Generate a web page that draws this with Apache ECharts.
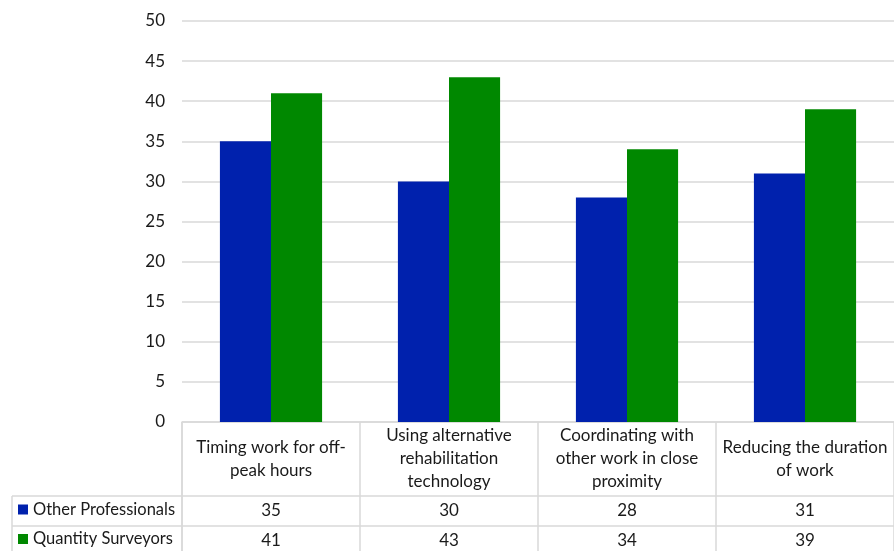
<!DOCTYPE html>
<html>
<head>
<meta charset="utf-8">
<script src="https://cdn.jsdelivr.net/npm/echarts@6/dist/echarts.min.js"></script>
<style>
  html, body { margin: 0; padding: 0; background: #fff; }
  #chart { width: 894px; height: 551px; }
</style>
</head>
<body>
<div id="chart"></div>
<script>
// Mitigation measures rated by two respondent groups
const categories = [
  'Timing work for off-peak hours',
  'Using alternative rehabilitation technology',
  'Coordinating with other work in close proximity',
  'Reducing the duration of work'
];
// header cell text, wrapped as it appears in the table
const categoryLabels = [
  'Timing work for off-\npeak hours',
  'Using alternative\nrehabilitation\ntechnology',
  'Coordinating with\nother work in close\nproximity',
  'Reducing the duration\nof work'
];
const seriesNames = ['Other Professionals', 'Quantity Surveyors'];
const otherProfessionals = [35, 30, 28, 31];
const quantitySurveyors = [41, 43, 34, 39];
const yTicks = [0, 5, 10, 15, 20, 25, 30, 35, 40, 45, 50];

const FONT = 'Lato, "Noto Sans", sans-serif';
const FS = 17;
const TEXT = '#1a1a1a';
const COLORS = ['#0021AD', '#008800'];
const LINE = '#d9d9d9';

// table geometry (header row + one row per series)
const headerH = 74;
const rowH = [30, 29];
const legendLeft = 12;

const chart = echarts.init(document.getElementById('chart'));

function valueAxis(values, margin) {
  return {
    type: 'category',
    data: categories,
    position: 'bottom',
    axisLine: { show: false },
    axisTick: { show: false },
    axisLabel: {
      interval: 0,
      margin: margin,
      verticalAlign: 'middle',
      fontFamily: FONT,
      fontSize: FS,
      color: TEXT,
      formatter: (v, i) => String(values[i])
    }
  };
}

const option = {
  animation: false,
  textStyle: { fontFamily: FONT },
  grid: { left: 182, right: 0, top: 21, bottom: 129, containLabel: false },
  legend: seriesNames.map((name, i) => ({
    data: [name],
    left: 18,
    top: 422 + headerH + (i === 0 ? 0 : rowH[0]) + (rowH[i] - 20) / 2,
    icon: 'rect',
    itemWidth: 10,
    itemHeight: 10,
    itemGap: 0,
    padding: 0,
    textStyle: { fontFamily: FONT, fontSize: 16.5, color: TEXT, padding: [0, 0, 0, 0] },
    selectedMode: false
  })),
  xAxis: [
    {
      type: 'category',
      data: categories,
      position: 'bottom',
      axisLine: { show: true, lineStyle: { color: LINE, width: 1.5 } },
      axisTick: {
        show: true,
        interval: 0,
        length: headerH + rowH[0] + rowH[1] + 10,
        inside: false,
        lineStyle: { color: LINE, width: 1.5 }
      },
      axisLabel: {
        interval: 0,
        margin: headerH / 2,
        verticalAlign: 'middle',
        lineHeight: 23,
        fontFamily: FONT,
        fontSize: FS,
        color: TEXT,
        formatter: (v, i) => categoryLabels[i]
      }
    },
    valueAxis(otherProfessionals, headerH + rowH[0] / 2),
    valueAxis(quantitySurveyors, headerH + rowH[0] + rowH[1] / 2)
  ],
  yAxis: {
    type: 'value',
    min: yTicks[0],
    max: yTicks[yTicks.length - 1],
    interval: yTicks[1] - yTicks[0],
    axisLine: { show: false },
    axisTick: { show: false },
    splitLine: { lineStyle: { color: LINE, width: 1.5 } },
    axisLabel: { margin: 17, fontFamily: FONT, fontSize: FS, color: TEXT }
  },
  series: [
    {
      name: seriesNames[0],
      type: 'bar',
      data: otherProfessionals,
      barWidth: '28.7%',
      barGap: '0%',
      itemStyle: { color: COLORS[0] }
    },
    {
      name: seriesNames[1],
      type: 'bar',
      data: quantitySurveyors,
      barWidth: '28.7%',
      barGap: '0%',
      itemStyle: { color: COLORS[1] }
    }
  ]
};

chart.setOption(option);

// Table rules: horizontal row separators and the left border of the legend column
const zeroY = chart.convertToPixel({ yAxisIndex: 0 }, 0);
const rightX = 894;
const leftGrid = 182;
const row1 = zeroY + headerH;
const row2 = row1 + rowH[0];
const row3 = row2 + rowH[1];
const lineStyle = { stroke: LINE, lineWidth: 1.5 };
chart.setOption({
  graphic: [
    { type: 'line', shape: { x1: legendLeft, y1: row1, x2: rightX, y2: row1 }, style: lineStyle, silent: true },
    { type: 'line', shape: { x1: legendLeft, y1: row2, x2: rightX, y2: row2 }, style: lineStyle, silent: true },
    { type: 'line', shape: { x1: legendLeft, y1: row3, x2: rightX, y2: row3 }, style: lineStyle, silent: true },
    { type: 'line', shape: { x1: legendLeft, y1: row1, x2: legendLeft, y2: row3 + 5 }, style: lineStyle, silent: true },
    { type: 'line', shape: { x1: leftGrid, y1: zeroY, x2: leftGrid, y2: row3 + 5 }, style: lineStyle, silent: true }
  ]
});
</script>
</body>
</html>
